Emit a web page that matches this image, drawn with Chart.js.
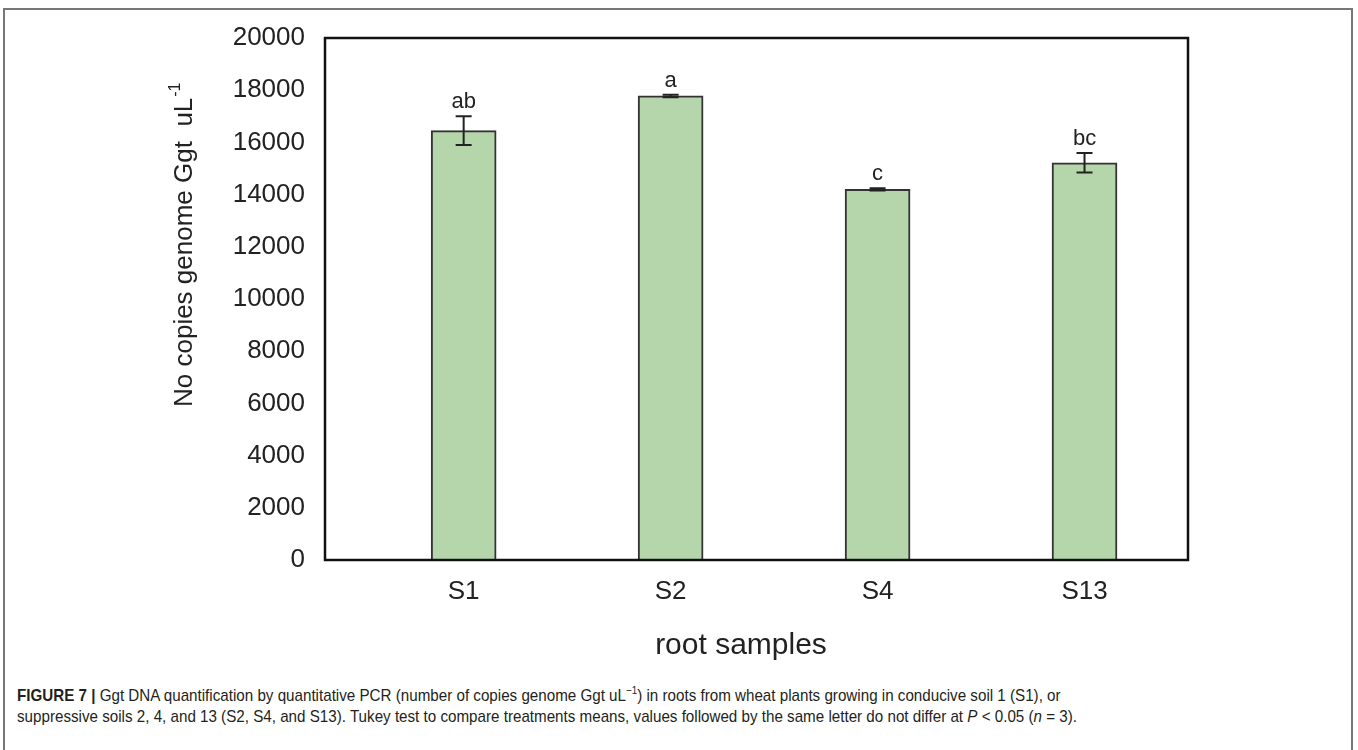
<!DOCTYPE html>
<html>
<head>
<meta charset="utf-8">
<script src="https://cdn.jsdelivr.net/npm/chart.js@4.4.0/dist/chart.umd.min.js"></script>
<style>
  body { margin: 0; background: #fff; }
  #frame { position: absolute; left: 3px; top: 8px; width: 1350px; height: 760px; border: 2px solid #777; box-sizing: border-box; }
  #chart { position: absolute; left: 0; top: 0; }
  #caption { position: absolute; left: 17px; top: 685px; font-family: Arial, 'Liberation Sans', sans-serif; font-size: 17px; line-height: 21px; color: #231f20; white-space: nowrap; transform-origin: 0 0; }
  #caption span { display: inline-block; }
  #caption sup { font-size: 11px; line-height: 0; }
</style>
</head>
<body>
<div id="frame"></div>
<canvas id="chart" width="1358" height="670"></canvas>
<div id="caption"><span id="line1"><b>FIGURE 7 |</b> Ggt DNA quantification by quantitative PCR (number of copies genome Ggt uL<sup>−1</sup>) in roots from wheat plants growing in conducive soil 1 (S1), or</span><br><span id="line2">suppressive soils 2, 4, and 13 (S2, S4, and S13). Tukey test to compare treatments means, values followed by the same letter do not differ at <i>P</i> &lt; 0.05 (<i>n</i> = 3).</span></div>
<script>
// data
const samples = ['S1', 'S2', 'S4', 'S13'];
const means = [16450, 17780, 14200, 15220];
const errors = [550, 50, 40, 370];
const letters = ['ab', 'a', 'c', 'bc'];
const yTicks = [0, 2000, 4000, 6000, 8000, 10000, 12000, 14000, 16000, 18000, 20000];

const font = 'Arial, "Liberation Sans", sans-serif';

// caption in the figure is a condensed face: squeeze it to the same width
const line2 = document.getElementById('line2');
document.getElementById('caption').style.transform = 'scaleX(' + (1060 / line2.getBoundingClientRect().width) + ')';

// box, error bars, letters and axis titles
const extras = {
  id: 'extras',
  afterDatasetsDraw(chart) {
    const ctx = chart.ctx;
    const area = chart.chartArea;
    const y = chart.scales.y;
    const bars = chart.getDatasetMeta(0).data;
    ctx.save();

    // error bars
    ctx.strokeStyle = '#222';
    ctx.lineWidth = 2;
    bars.forEach((bar, i) => {
      const top = y.getPixelForValue(means[i] + errors[i]);
      const bot = y.getPixelForValue(means[i] - errors[i]);
      ctx.beginPath();
      ctx.moveTo(bar.x, top); ctx.lineTo(bar.x, bot);
      ctx.moveTo(bar.x - 8, top); ctx.lineTo(bar.x + 8, top);
      ctx.moveTo(bar.x - 8, bot); ctx.lineTo(bar.x + 8, bot);
      ctx.stroke();
    });

    // letters
    ctx.fillStyle = '#222';
    ctx.font = '22px ' + font;
    ctx.textAlign = 'center';
    ctx.textBaseline = 'alphabetic';
    bars.forEach((bar, i) => {
      ctx.fillText(letters[i], bar.x, y.getPixelForValue(means[i] + errors[i]) - 8);
    });

    // plot box
    ctx.strokeStyle = '#111';
    ctx.lineWidth = 2.5;
    ctx.strokeRect(area.left, area.top, area.right - area.left, area.bottom - area.top);

    // x title
    ctx.font = '30px ' + font;
    ctx.fillText('root samples', 741, 654);

    // y title with superscript
    ctx.translate(192, 407);
    ctx.rotate(-Math.PI / 2);
    ctx.textAlign = 'left';
    ctx.font = '26px ' + font;
    const main = 'No copies genome Ggt  uL';
    ctx.fillText(main, 0, 0);
    const w = ctx.measureText(main).width;
    ctx.font = '16px ' + font;
    ctx.fillText('-1', w + 1, -12);
    ctx.restore();
  }
};

new Chart(document.getElementById('chart'), {
  type: 'bar',
  data: {
    datasets: [{
      data: samples.map((s, i) => ({ x: i + 1, y: means[i] })),
      backgroundColor: '#b5d6ab',
      borderColor: '#333',
      borderWidth: 2,
      barThickness: 65
    }]
  },
  options: {
    responsive: false,
    animation: false,
    devicePixelRatio: 1,
    layout: { padding: { left: 0, top: 38, right: 170, bottom: 0 } },
    plugins: { legend: { display: false }, tooltip: { enabled: false } },
    scales: {
      x: {
        type: 'linear',
        offset: false,
        min: 0.33,
        max: 4.5,
        grid: { display: false, offset: false },
        border: { display: false },
        afterBuildTicks: scale => { scale.ticks = samples.map((s, i) => ({ value: i + 1 })); },
        afterFit: scale => { scale.height = 110; },
        ticks: {
          callback: v => samples[v - 1],
          padding: 8,
          maxRotation: 0,
          color: '#222',
          font: { family: font, size: 26 }
        }
      },
      y: {
        min: 0,
        max: 20000,
        grid: { display: false },
        border: { display: false },
        afterBuildTicks: scale => { scale.ticks = yTicks.map(v => ({ value: v })); },
        afterFit: scale => { scale.width = 325; },
        ticks: {
          callback: v => String(v),
          padding: 12,
          color: '#222',
          font: { family: font, size: 26 }
        }
      }
    }
  },
  plugins: [extras]
});
</script>
</body>
</html>
